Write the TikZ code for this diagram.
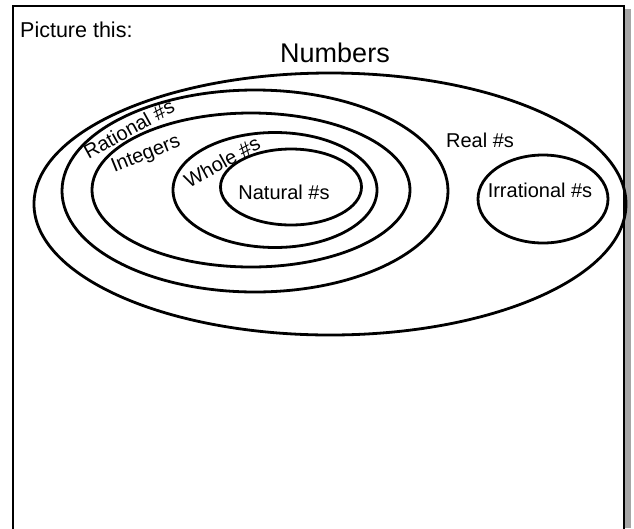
\documentclass[tikz,border=0pt]{standalone}
\usepackage{fontspec}
\setmainfont{Liberation Sans}
\usetikzlibrary{shapes.geometric}
\begin{document}
\begin{tikzpicture}[x=1pt,y=-1pt,
  setbox/.style={draw=black,line width=2.8pt,shape=ellipse,inner sep=0pt,fill=none},
  lbl/.style={font=\fontsize{20}{24}\selectfont,inner sep=0pt},
  bigl/.style={font=\fontsize{27}{32}\selectfont,inner sep=0pt}]
\useasboundingbox (0,0) rectangle (634,528);
% frame
\fill[gray!70] (625,9) rectangle (631,528);
\draw[line width=2pt] (13,540) -- (13,6) -- (624,6) -- (624,540);
% sets
\node[setbox,minimum width=592pt,minimum height=262pt] (real) at (330,204) {};
\node[setbox,minimum width=386pt,minimum height=202pt] (rational) at (255,191) {};
\node[setbox,minimum width=318pt,minimum height=154pt] (integers) at (251,190) {};
\node[setbox,minimum width=204pt,minimum height=115pt] (whole) at (275,190) {};
\node[setbox,minimum width=141pt,minimum height=76pt] (natural) at (291,187) {};
\node[setbox,minimum width=130pt,minimum height=88pt] (irrational) at (543,199) {};
% labels
\node[lbl,font=\fontsize{21.5}{26}\selectfont,anchor=west] (pic) at (20,30) {Picture this:};
\node[bigl] (numbers) at (335,53) {Numbers};
\node[lbl] (reallbl) at (480,140) {Real \#s};
\node[lbl] (irrlbl) at (540,190) {Irrational \#s};
\node[lbl] (natlbl) at (284,192) {Natural \#s};
\node[lbl,rotate=29] (ratlbl) at (129,129) {Rational \#s};
\node[lbl,rotate=22] (intlbl) at (146,155) {Integers};
\node[lbl,rotate=29] (wholbl) at (222,162) {Whole \#s};
\end{tikzpicture}
\end{document}
